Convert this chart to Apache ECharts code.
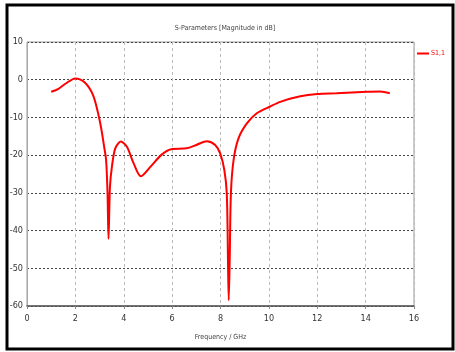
<!DOCTYPE html>
<html>
<head>
<meta charset="utf-8">
<script src="https://cdn.jsdelivr.net/npm/echarts@6/dist/echarts.min.js"></script>
<style>
  html, body { margin: 0; padding: 0; background: #fff; }
  #main { width: 455px; height: 352px; }
</style>
</head>
<body>
<div id="main"></div>
<script>
// S1,1 magnitude (dB) vs frequency (GHz)
const freq = [1, 1.3, 1.6, 2.0, 2.4, 2.75, 3.03, 3.19, 3.27, 3.33, 3.37, 3.43, 3.51, 3.65, 3.88, 4.13, 4.41, 4.71, 5.1, 5.58, 6.0, 6.6, 7.0, 7.44, 7.78, 7.99, 8.16, 8.26, 8.31, 8.34, 8.38, 8.43, 8.54, 8.74, 9.09, 9.5, 10.05, 10.5, 11.3, 12.0, 12.8, 14.05, 14.6, 15.0];
const s11 = [-3.2, -2.4, -1.0, 0.35, -0.8, -4.4, -11.6, -17.8, -21.3, -30.2, -42.2, -28.4, -23.1, -18.2, -16.4, -17.8, -22.2, -25.6, -23.1, -19.8, -18.4, -18.2, -17.3, -16.3, -17.3, -19.6, -24.0, -30.2, -48.0, -58.5, -48.0, -30.2, -21.3, -15.6, -11.6, -8.9, -7.1, -5.8, -4.4, -3.8, -3.6, -3.2, -3.1, -3.6];
const xTicks = [0, 2, 4, 6, 8, 10, 12, 14, 16];
const yTicks = [10, 0, -10, -20, -30, -40, -50, -60];

const font = "'Liberation Sans Narrow', 'DejaVu Sans Condensed', sans-serif";
const chart = echarts.init(document.getElementById('main'));

const option = {
    animation: false,
    title: {
        text: 'S-Parameters [Magnitude in dB]',
        left: 220,
        top: 20,
        textAlign: 'center',
        textStyle: { fontFamily: font, fontSize: 7, fontWeight: 'normal', color: '#444' }
    },
    legend: {
        data: ['S1,1'],
        left: 417,
        top: 50,
        padding: 0,
        icon: 'rect',
        itemWidth: 12,
        itemHeight: 2,
        itemGap: 0,
        textStyle: { fontFamily: font, fontSize: 7, color: '#ff0000', padding: [0, 0, 0, -3] }
    },
    grid: {
        left: 27,
        right: 41,
        top: 42,
        bottom: 46,
        show: true,
        borderColor: '#999',
        borderWidth: 1
    },
    xAxis: {
        type: 'value',
        min: xTicks[0],
        max: xTicks[xTicks.length - 1],
        interval: 2,
        name: 'Frequency / GHz',
        nameLocation: 'middle',
        nameGap: 28,
        nameTextStyle: { fontFamily: font, fontSize: 7, color: '#444' },
        axisLine: { onZero: false, lineStyle: { color: '#555', width: 1.5 } },
        axisTick: { show: true, length: 3, lineStyle: { color: '#888' } },
        axisLabel: { fontFamily: font, fontSize: 9, color: '#333', margin: 8 },
        splitLine: { show: true, lineStyle: { color: '#bbb', type: [3, 3], width: 1 } }
    },
    yAxis: {
        type: 'value',
        min: yTicks[yTicks.length - 1],
        max: yTicks[0],
        interval: 10,
        axisLine: { show: true, lineStyle: { color: '#aaa' } },
        axisTick: { show: false },
        axisLabel: { fontFamily: font, fontSize: 9, color: '#333', margin: 4 },
        splitLine: { show: true, lineStyle: { color: '#444', type: [2, 2], width: 1 } }
    },
    graphic: [{
        type: 'rect',
        shape: { x: 7, y: 5, width: 446, height: 344 },
        style: { fill: 'none', stroke: '#000', lineWidth: 3 },
        z: 100
    }],
    series: [{
        name: 'S1,1',
        type: 'line',
        data: freq.map((f, i) => [f, s11[i]]),
        showSymbol: false,
        smooth: 0.3,
        lineStyle: { color: '#ff0000', width: 2 },
        itemStyle: { color: '#ff0000' }
    }]
};
chart.setOption(option);
</script>
</body>
</html>
